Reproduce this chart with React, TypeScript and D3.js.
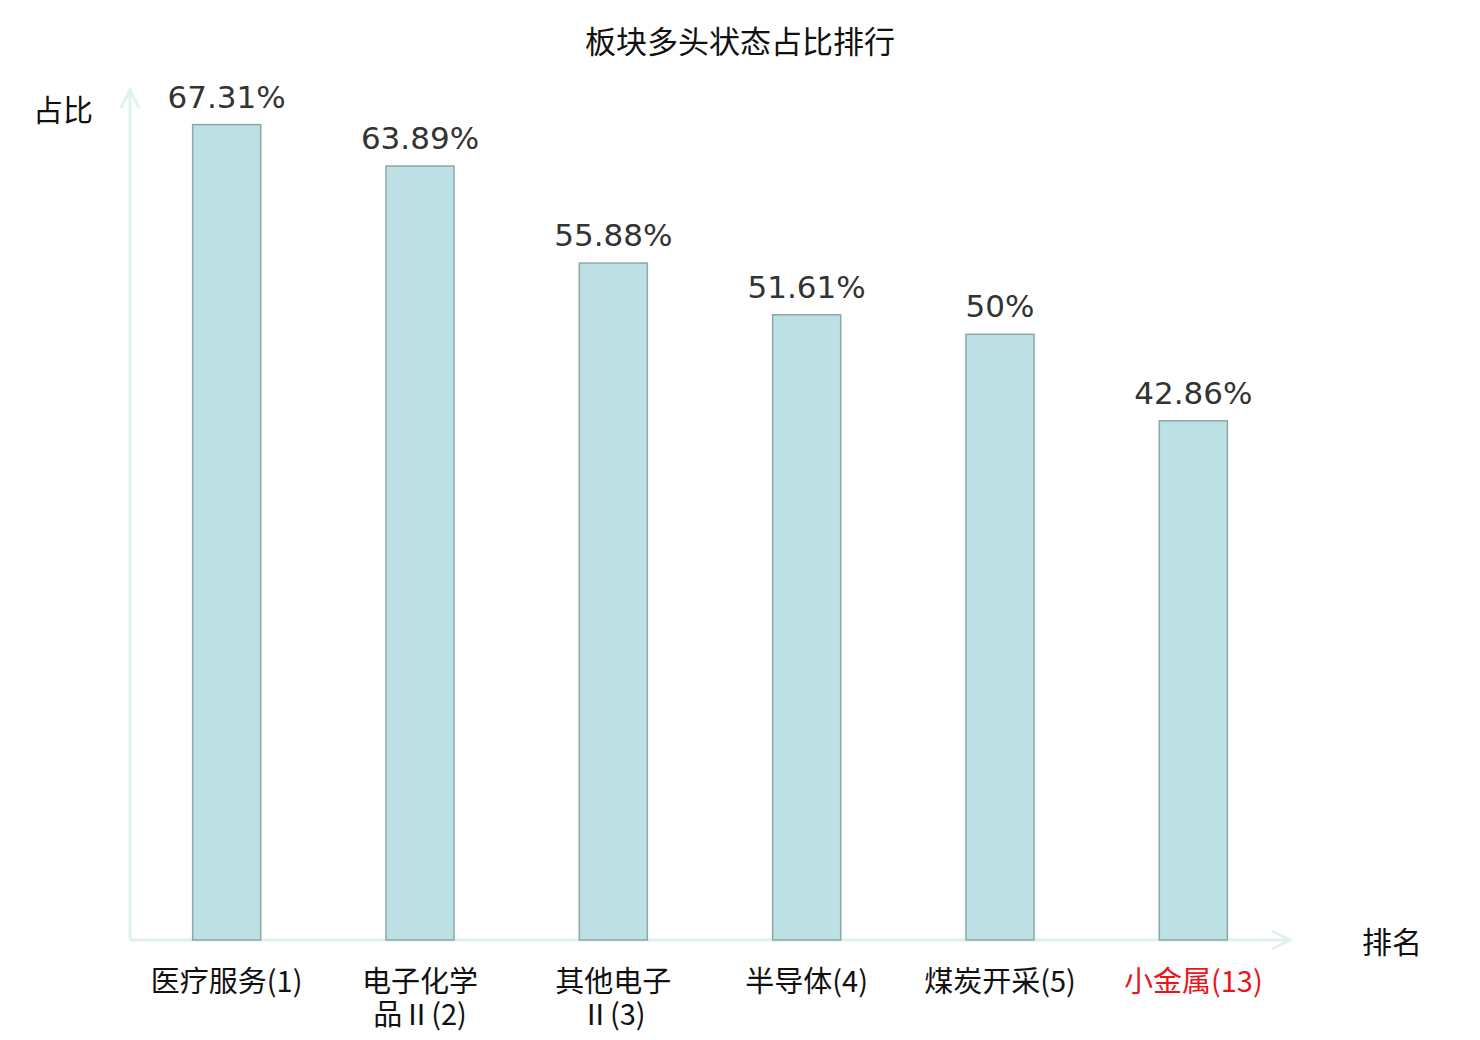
import React, { useEffect, useRef } from "react";
import * as d3 from "d3";

const WIDTH = 1464;
const HEIGHT = 1032;

const categories = ["医疗服务", "电子化学品Ⅱ", "其他电子Ⅱ", "半导体", "煤炭开采", "小金属"];
const ranks = [1, 2, 3, 4, 5, 13];
const values = [67.31, 63.89, 55.88, 51.61, 50, 42.86];
const labelLines = [["医疗服务(1)"], ["电子化学", "品Ⅱ(2)"], ["其他电子", "Ⅱ(3)"], ["半导体(4)"], ["煤炭开采(5)"], ["小金属(13)"]];
const highlight = "小金属";

const ORIGIN = { x: 122, y: 932 };
const AXIS_COLOR = "#dff2ef";
const CJK = "'Noto Sans CJK SC', 'DejaVu Sans', sans-serif";

export default function App() {
  const ref = useRef<SVGSVGElement>(null);

  useEffect(() => {
    const svg = d3.select(ref.current);
    svg.selectAll("*").remove();

    const x = d3.scaleBand<string>().domain(categories).range([ORIGIN.x, 1282]).padding(0);
    const y = d3.scaleLinear().domain([0, 70]).range([ORIGIN.y, 84]);
    const barW = x.step() * 0.352;

    svg.append("text")
      .attr("x", 732).attr("y", 45)
      .attr("text-anchor", "middle")
      .style("font-family", CJK).style("font-size", "31px").style("fill", "#111")
      .text("板块多头状态占比排行");

    // axes
    const ax = svg.append("g").attr("stroke", AXIS_COLOR).attr("stroke-width", 3).attr("fill", "none");
    ax.append("line").attr("x1", ORIGIN.x).attr("y1", ORIGIN.y).attr("x2", 1282).attr("y2", ORIGIN.y);
    ax.append("line").attr("x1", ORIGIN.x).attr("y1", ORIGIN.y).attr("x2", ORIGIN.x).attr("y2", 82);
    ax.append("path").attr("d", `M1264,${ORIGIN.y - 9}L1282,${ORIGIN.y}L1264,${ORIGIN.y + 9}`);
    ax.append("path").attr("d", `M${ORIGIN.x - 9},100L${ORIGIN.x},82L${ORIGIN.x + 9},100`);

    svg.append("text").attr("x", 55).attr("y", 113).attr("text-anchor", "middle")
      .style("font-family", CJK).style("font-size", "30px").style("fill", "#111").text("占比");
    svg.append("text").attr("x", 1384).attr("y", 945).attr("text-anchor", "middle")
      .style("font-family", CJK).style("font-size", "30px").style("fill", "#111").text("排名");

    const g = svg.append("g");
    g.selectAll("rect").data(values).enter().append("rect")
      .attr("x", (_, i) => (x(categories[i]) || 0) + x.bandwidth() / 2 - barW / 2)
      .attr("y", d => y(d))
      .attr("width", barW)
      .attr("height", d => ORIGIN.y - y(d))
      .attr("fill", "#bce0e3")
      .attr("stroke", "#8aa8aa")
      .attr("stroke-width", 1.5);

    g.selectAll("text.val").data(values).enter().append("text")
      .attr("class", "val")
      .attr("x", (_, i) => (x(categories[i]) || 0) + x.bandwidth() / 2)
      .attr("y", d => y(d) - 17)
      .attr("text-anchor", "middle")
      .style("font-family", "'DejaVu Sans', sans-serif").style("font-size", "31px").style("fill", "#333")
      .text(d => `${d}%`);

    categories.forEach((c, i) => {
      labelLines[i].forEach((line, j) => {
        svg.append("text")
          .attr("x", (x(c) || 0) + x.bandwidth() / 2)
          .attr("y", 984 + j * 33)
          .attr("text-anchor", "middle")
          .attr("data-rank", ranks[i])
          .style("font-family", CJK).style("font-size", "29px")
          .style("fill", c === highlight ? "#e8161b" : "#111")
          .text(line);
      });
    });
  }, []);

  return <svg ref={ref} width={WIDTH} height={HEIGHT} style={{ display: "block", background: "#fff" }} />;
}
